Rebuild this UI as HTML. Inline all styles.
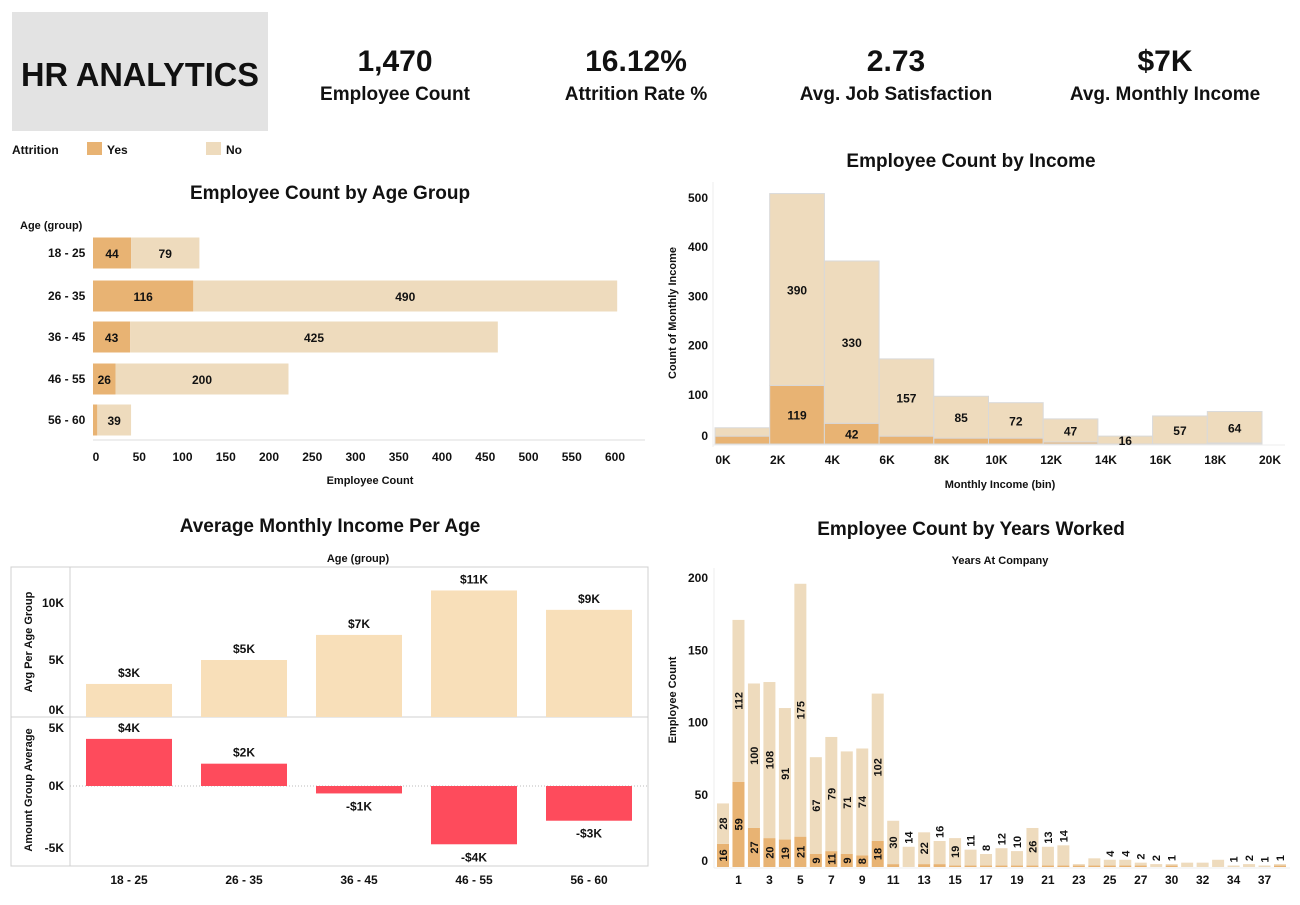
<!DOCTYPE html>
<html><head><meta charset="utf-8"><style>
body{margin:0;background:#fff;font-family:"Liberation Sans",sans-serif;}
svg text{font-family:"Liberation Sans",sans-serif;font-weight:bold;fill:#111;}
</style></head><body>
<svg id="dash" width="1300" height="900" viewBox="0 0 1300 900" xmlns="http://www.w3.org/2000/svg">
<rect x="12" y="12" width="256" height="119" fill="#e3e3e3"/>
<text x="140" y="86" font-size="33" text-anchor="middle" textLength="238" lengthAdjust="spacingAndGlyphs">HR ANALYTICS</text>
<g><text x="395" y="71" font-size="30" text-anchor="middle">1,470</text><text x="395" y="100" font-size="19" text-anchor="middle">Employee Count</text></g>
<g><text x="636" y="71" font-size="30" text-anchor="middle">16.12%</text><text x="636" y="100" font-size="19" text-anchor="middle">Attrition Rate %</text></g>
<g><text x="896" y="71" font-size="30" text-anchor="middle">2.73</text><text x="896" y="100" font-size="19" text-anchor="middle">Avg. Job Satisfaction</text></g>
<g><text x="1165" y="71" font-size="30" text-anchor="middle">$7K</text><text x="1165" y="100" font-size="19" text-anchor="middle">Avg. Monthly Income</text></g>
<g>
<text x="12" y="154" font-size="12">Attrition</text>
<rect x="87" y="142" width="15" height="13" fill="#e8b373"/><text x="107" y="154" font-size="12">Yes</text>
<rect x="206" y="142" width="15" height="13" fill="#eedbbd"/><text x="226" y="154" font-size="12">No</text>
</g>
<g id="c1"></g>
<g id="c2"></g>
<g id="c3"></g>
<g id="c4"></g>
</svg>
<script>
// Chart 1 data
const ageGroups=["18 - 25","26 - 35","36 - 45","46 - 55","56 - 60"];
const ageYes=[44,116,43,26,5];
const ageNo=[79,490,425,200,39];
const ageTicks=[0,50,100,150,200,250,300,350,400,450,500,550,600];
// Chart 2 data
const incomeBins=["0K","2K","4K","6K","8K","10K","12K","14K","16K","18K","20K"];
const incYes=[16,119,42,16,12,12,4,0,0,2];
const incNo=[17,390,330,157,85,72,47,16,57,64];
const incNoLabeled=[false,true,true,true,true,true,true,true,true,true];
const incYesLabeled=[false,true,true,false,false,false,false,false,false,false];
const incTicks=[0,100,200,300,400,500];
// Chart 3 data
const avgIncome=[2.9,5.0,7.2,11.1,9.4];
const avgIncomeLabels=["$3K","$5K","$7K","$11K","$9K"];
const diffIncome=[3.8,1.8,-0.6,-4.7,-2.8];
const diffLabels=["$4K","$2K","-$1K","-$4K","-$3K"];
const avgTicks=[0,5,10];
const diffTicks=[-5,0,5];
// Chart 4 data
const years=["0","1","2","3","4","5","6","7","8","9","10","11","12","13","14","15","16","17","18","19","20","21","22","23","24","25","26","27","29","30","31","32","33","34","36","37","40"];
const yrYes=[16,59,27,20,19,21,9,11,9,8,18,2,0,2,2,1,1,1,1,1,1,1,1,1,1,1,1,1,0,1,0,0,0,0,0,0,1];
const yrNo=[28,112,100,108,91,175,67,79,71,74,102,30,14,22,16,19,11,8,12,10,26,13,14,1,5,4,4,2,2,1,3,3,5,1,2,1,1];
const yrNoLabeled=[1,1,1,1,1,1,1,1,1,1,1,1,1,1,1,1,1,1,1,1,1,1,1,0,0,1,1,1,1,1,0,0,0,1,1,1,1];
const yrTicks=[0,50,100,150,200];

const NS="http://www.w3.org/2000/svg";
function mk(p,tag,at,txt){const e=document.createElementNS(NS,tag);for(const k in at)e.setAttribute(k,at[k]);if(txt!==undefined)e.textContent=txt;p.appendChild(e);return e;}
const YES="#e8b373",NO="#eedbbd";

// ---- Chart 1
(function(){
const g=document.getElementById('c1');
const x0=93,sx=(615-96)/600,rowY=[253,296,337,379,420],bh=31;
const X=v=>x0+v*sx;
let t=mk(g,'text',{x:330,y:199,'font-size':19,'text-anchor':'middle',fill:'#333'},'Employee Count by Age Group');

t=mk(g,'text',{x:20,y:229,'font-size':11},'Age (group)');

mk(g,'line',{x1:x0,y1:440,x2:645,y2:440,stroke:'#ddd'});
ageGroups.forEach((a,i)=>{
 const y=rowY[i];
 t=mk(g,'text',{x:48,y:y+4,'font-size':12},a);
 
 let r=mk(g,'rect',{x:X(0),y:y-bh/2,width:ageYes[i]*sx,height:bh,fill:YES});
 
 r=mk(g,'rect',{x:X(ageYes[i]),y:y-bh/2,width:ageNo[i]*sx,height:bh,fill:NO});
 
 if(ageYes[i]>15){mk(g,'text',{x:X(ageYes[i]/2),y:y+5,'font-size':12,'text-anchor':'middle'},ageYes[i]);}
 mk(g,'text',{x:X(ageYes[i]+ageNo[i]/2),y:y+5,'font-size':12,'text-anchor':'middle'},ageNo[i]);
});
ageTicks.forEach(v=>{t=mk(g,'text',{x:X(v)+3,y:461,'font-size':12,'text-anchor':'middle'},v);});
t=mk(g,'text',{x:370,y:484,'font-size':11,'text-anchor':'middle'},'Employee Count');

})();

// ---- Chart 2
(function(){
const g=document.getElementById('c2');
const x0=715,bw=54.7,y0=444,sy=246/500;
const Y=v=>y0-v*sy;
let t=mk(g,'text',{x:971,y:167,'font-size':19,'text-anchor':'middle',fill:'#333'},'Employee Count by Income');

mk(g,'line',{x1:713,y1:182,x2:713,y2:447,stroke:'#eee'});
mk(g,'line',{x1:713,y1:445,x2:1285,y2:445,stroke:'#eee'});
incTicks.forEach(v=>{t=mk(g,'text',{x:708,y:(v===0?Y(v)-4:Y(v)+4),'font-size':12,'text-anchor':'end'},v);});
t=mk(g,'text',{x:676,y:313,'font-size':11,'text-anchor':'middle',transform:'rotate(-90 676 313)'},'Count of Monthly Income');

incYes.forEach((yv,i)=>{
 const x=x0+i*bw,nv=incNo[i];
 let r=mk(g,'rect',{x:x,y:Y(yv),width:bw,height:yv*sy,fill:YES,stroke:'#d9d9d9','stroke-width':1});
 
 r=mk(g,'rect',{x:x,y:Y(yv+nv),width:bw,height:nv*sy,fill:NO,stroke:'#d9d9d9','stroke-width':1});
 
 if(incNoLabeled[i])mk(g,'text',{x:x+bw/2,y:Y(yv+nv/2)+5,'font-size':12,'text-anchor':'middle'},nv);
 if(incYesLabeled[i])mk(g,'text',{x:x+bw/2,y:Y(yv/2)+5,'font-size':12,'text-anchor':'middle'},yv);
});
incomeBins.forEach((b,i)=>{t=mk(g,'text',{x:x0+i*bw+8,y:464,'font-size':12,'text-anchor':'middle'},b);});
t=mk(g,'text',{x:1000,y:488,'font-size':11,'text-anchor':'middle'},'Monthly Income (bin)');

})();

// ---- Chart 3
(function(){
const g=document.getElementById('c3');
let t=mk(g,'text',{x:330,y:532,'font-size':19,'text-anchor':'middle',fill:'#333'},'Average Monthly Income Per Age');

t=mk(g,'text',{x:358,y:562,'font-size':11,'text-anchor':'middle'},'Age (group)');

mk(g,'rect',{x:11,y:567,width:637,height:299,fill:'none',stroke:'#d0d0d0'});
mk(g,'line',{x1:11,y1:717,x2:648,y2:717,stroke:'#d0d0d0'});
mk(g,'line',{x1:70,y1:567,x2:70,y2:866,stroke:'#d0d0d0'});
const cx=[129,244,359,474,589],bw=86;
const y0a=717,sa=11.4,y0b=786,sb=12.4;
const Ya=v=>y0a-v*sa,Yb=v=>y0b-v*sb;
mk(g,'line',{x1:70,y1:y0b,x2:648,y2:y0b,stroke:'#bbb','stroke-dasharray':'1 2'});
avgTicks.forEach(v=>{t=mk(g,'text',{x:64,y:(v===0?Ya(v)-3:Ya(v)+4),'font-size':12,'text-anchor':'end'},v+'K');});
diffTicks.forEach(v=>{t=mk(g,'text',{x:64,y:(v===5?Yb(v)+8:Yb(v)+4),'font-size':12,'text-anchor':'end'},(v<0?'-':'')+Math.abs(v)+'K');});
t=mk(g,'text',{x:32,y:642,'font-size':11,'text-anchor':'middle',transform:'rotate(-90 32 642)'},'Avg Per Age Group');

t=mk(g,'text',{x:32,y:790,'font-size':11,'text-anchor':'middle',transform:'rotate(-90 32 790)'},'Amount Group Average');

ageGroups.forEach((a,i)=>{
 let r=mk(g,'rect',{x:cx[i]-bw/2,y:Ya(avgIncome[i]),width:bw,height:avgIncome[i]*sa,fill:'#f8dfb9'});
 
 mk(g,'text',{x:cx[i],y:Ya(avgIncome[i])-7,'font-size':12,'text-anchor':'middle'},avgIncomeLabels[i]);
 const d=diffIncome[i];
 r=mk(g,'rect',{x:cx[i]-bw/2,y:Math.min(Yb(d),y0b),width:bw,height:Math.abs(d)*sb,fill:'#fe4b5c'});
 
 mk(g,'text',{x:cx[i],y:d>=0?Yb(d)-7:Yb(d)+17,'font-size':12,'text-anchor':'middle'},diffLabels[i]);
 t=mk(g,'text',{x:cx[i],y:884,'font-size':12,'text-anchor':'middle'},a);
 
});
})();

// ---- Chart 4
(function(){
const g=document.getElementById('c4');
let t=mk(g,'text',{x:971,y:535,'font-size':19,'text-anchor':'middle',fill:'#333'},'Employee Count by Years Worked');

t=mk(g,'text',{x:1000,y:564,'font-size':11,'text-anchor':'middle'},'Years At Company');

const x0=723,step=(1280-723)/36,bw=12,y0=867,sy=(867-578)/200;
const Y=v=>y0-v*sy;
mk(g,'line',{x1:714,y1:568,x2:714,y2:868,stroke:'#eee'});
mk(g,'line',{x1:714,y1:868,x2:1290,y2:868,stroke:'#eee'});
yrTicks.forEach(v=>{t=mk(g,'text',{x:708,y:(v===0?Y(v)-2:Y(v)+4),'font-size':12,'text-anchor':'end'},v);});
t=mk(g,'text',{x:676,y:700,'font-size':11,'text-anchor':'middle',transform:'rotate(-90 676 700)'},'Employee Count');

years.forEach((yr,i)=>{
 const cx=x0+i*step,yv=yrYes[i],nv=yrNo[i];
 let r=mk(g,'rect',{x:cx-bw/2,y:Y(yv),width:bw,height:yv*sy,fill:YES});
 
 r=mk(g,'rect',{x:cx-bw/2,y:Y(yv+nv),width:bw,height:nv*sy,fill:NO});
 
 if(yrNoLabeled[i]){
  const inside=nv*sy>24;
  const ny=inside?Y(yv+nv/2):Y(yv+nv)-3;
  mk(g,'text',{x:cx+4,y:ny,'font-size':11,'text-anchor':inside?'middle':'start',transform:'rotate(-90 '+(cx+4)+' '+ny+')'},nv);
 }
 if(yv>=8){const yy=Y(yv/2);mk(g,'text',{x:cx+4,y:yy,'font-size':11,'text-anchor':'middle',transform:'rotate(-90 '+(cx+4)+' '+yy+')'},yv);}
 if(i%2===1){t=mk(g,'text',{x:cx,y:884,'font-size':12,'text-anchor':'middle'},yr);}
});
})();
</script>
</body></html>
